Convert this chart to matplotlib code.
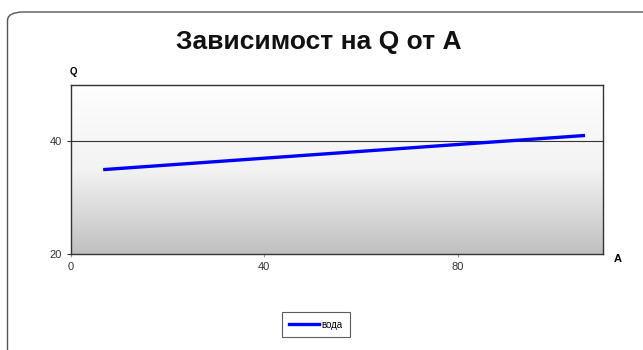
import numpy as np
import matplotlib
matplotlib.use("Agg")
import matplotlib.pyplot as plt
from matplotlib.patches import FancyBboxPatch

plt.rcParams['font.family'] = ['Liberation Sans', 'DejaVu Sans']

# data
a_values = [7, 106]
q_values = [35, 41]
series_name = 'вода'
x_ticks = [0, 40, 80]
y_ticks = [20, 40]

fig = plt.figure(figsize=(6.43, 3.5), dpi=100)

# rounded outer frame (cut off at right/bottom like the original)
frame = FancyBboxPatch((7.5 / 643, -0.2), 1.2, 1.2 - 12 / 350,
                       boxstyle="round,pad=0,rounding_size=0.025",
                       transform=fig.transFigure, facecolor='white',
                       edgecolor='#555555', linewidth=1.0, zorder=-10)
fig.patches.append(frame)

ax = fig.add_axes([71 / 643, 1 - 254.3 / 350, (602.7 - 71) / 643, (254.3 - 84.7) / 350])

# gray gradient background, white at top
grad = np.linspace(0, 1, 256).reshape(-1, 1)
cmap = matplotlib.colors.LinearSegmentedColormap.from_list('g', ['#fefefe', '#f3f3f3', '#c0c0c0'])
ax.imshow(grad, extent=[0, 110, 20, 50], origin='upper', aspect='auto', cmap=cmap, zorder=0)
ax.set_xlim(0, 110)
ax.set_ylim(20, 50)

ax.axhline(40, color='#333333', linewidth=0.8, zorder=1)
ax.plot(a_values, q_values, color='#0000ff', linewidth=2.4, label=series_name, zorder=3)

ax.set_xticks(x_ticks)
ax.set_yticks(y_ticks)
ax.tick_params(labelsize=8, colors='#333333', length=3, width=0.8, direction='out')
ax.tick_params(axis='x', colors='#999999', labelcolor='#333333', length=2)
for s in ax.spines.values():
    s.set_color('#333333')
    s.set_linewidth(1.0)

fig.text(319 / 643, 1 - 42 / 350, 'Зависимост на Q от А', ha='center', va='center',
         fontsize=19, fontweight='bold', color='#111111')
fig.text(73 / 643, 1 - 72 / 350, 'Q', ha='center', va='center', fontsize=7, fontweight='bold')
fig.text(618 / 643, 1 - 259 / 350, 'A', ha='center', va='center', fontsize=8, fontweight='bold')

leg = fig.legend(loc='center', bbox_to_anchor=(316 / 643, 1 - 324.5 / 350), fontsize=7,
                 frameon=True, fancybox=False, edgecolor='#333333', handlelength=3,
                 handletextpad=0.3, borderpad=0.75, borderaxespad=0)
leg.get_frame().set_linewidth(0.8)

fig.savefig('out.png', dpi=100)
